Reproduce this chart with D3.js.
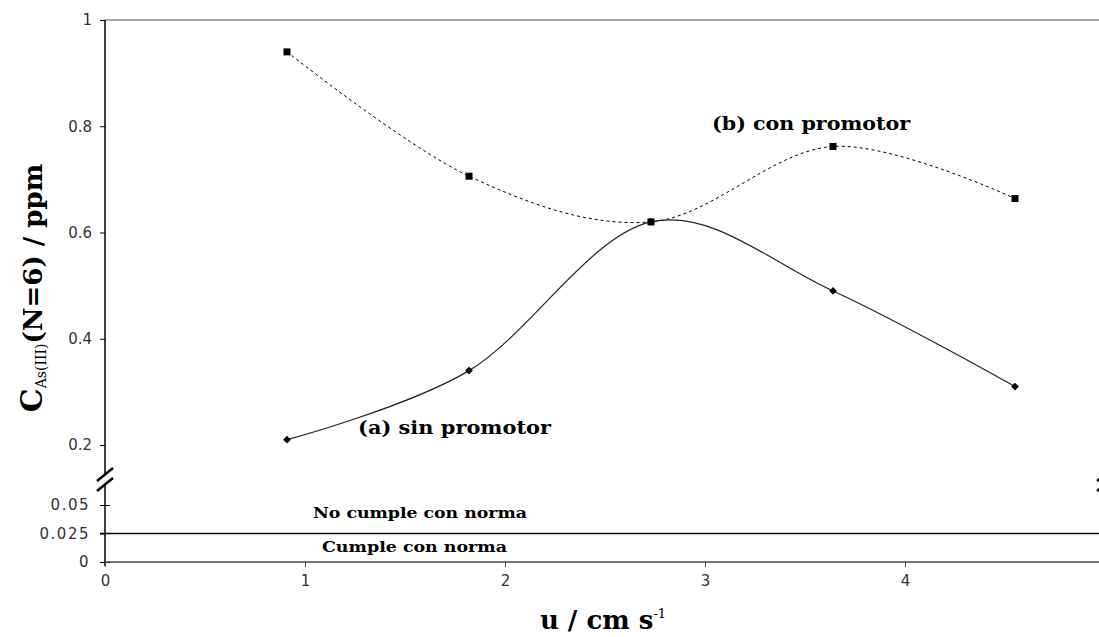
<!DOCTYPE html>
<html>
<head>
<meta charset="utf-8">
<script src="https://cdn.jsdelivr.net/npm/d3@7"></script>
<style>
  html, body { margin: 0; padding: 0; background: #fff; }
  svg { display: block; }
  .tick text { font-family: 'DejaVu Sans', sans-serif; font-size: 15px; fill: #333; }
</style>
</head>
<body>
<svg id="chart"></svg>
<script>
// velocidad u / cm s-1
const uValues = [0.91, 1.82, 2.73, 3.64, 4.55];
// (a) sin promotor
const sinPromotor = [0.21, 0.34, 0.62, 0.49, 0.31];
// (b) con promotor
const conPromotor = [0.94, 0.706, 0.62, 0.762, 0.664];

const xTicks = [0, 1, 2, 3, 4];
const yTicksUpper = [0.2, 0.4, 0.6, 0.8, 1];
const yTicksLower = [0, 0.025, 0.05];
const normaLimit = 0.025;

const width = 1099, height = 637;

const svg = d3.select('#chart')
  .attr('width', width)
  .attr('height', height);

// scales: upper part (broken axis) and lower part
const x = d3.scaleLinear().domain([0, 5]).range([105, 1105]);
const yTop = d3.scaleLinear().domain([0.2, 1]).range([445, 20]);
const yLow = d3.scaleLinear().domain([0, 0.05]).range([562, 505]);

const breakY = 478;

// top frame line
svg.append('line')
  .attr('x1', x(0)).attr('x2', x(5))
  .attr('y1', yTop(1)).attr('y2', yTop(1))
  .attr('stroke', '#8a8a8a').attr('stroke-width', 1.5);

// upper y axis
const gTop = svg.append('g')
  .attr('transform', 'translate(' + x(0) + ',0)')
  .call(d3.axisLeft(yTop).tickValues(yTicksUpper).tickSize(5).tickPadding(8).tickFormat(d3.format('')));
gTop.select('.domain').remove();
gTop.selectAll('.tick line').attr('stroke', '#000');

// lower y axis
const gLow = svg.append('g')
  .attr('transform', 'translate(' + x(0) + ',0)')
  .call(d3.axisLeft(yLow).tickValues(yTicksLower).tickSize(5).tickPadding(10).tickFormat(d3.format('')));
gLow.select('.domain').remove();
gLow.selectAll('.tick line').attr('stroke', '#000').attr('x1', function (d) { return d === normaLimit ? 0 : 5; });
gLow.selectAll('.tick text').style('letter-spacing', '1.5px');

// vertical axis line with gap
svg.append('line')
  .attr('x1', x(0)).attr('x2', x(0))
  .attr('y1', yTop(1)).attr('y2', breakY - 4)
  .attr('stroke', '#000').attr('stroke-width', 1.5);
svg.append('line')
  .attr('x1', x(0)).attr('x2', x(0))
  .attr('y1', breakY + 6).attr('y2', yLow(0) + 4)
  .attr('stroke', '#000').attr('stroke-width', 1.5);

// break marks (left and right)
[x(0), x(5)].forEach(function (bx) {
  [0, 10].forEach(function (off) {
    svg.append('line')
      .attr('x1', bx - 8).attr('y1', breakY + 3 + off)
      .attr('x2', bx + 8).attr('y2', breakY - 10 + off)
      .attr('stroke', '#000').attr('stroke-width', 2.5);
  });
});

// x axis
const gx = svg.append('g')
  .attr('transform', 'translate(0,' + yLow(0) + ')')
  .call(d3.axisBottom(x).tickValues(xTicks).tickSize(5).tickPadding(8).tickFormat(d3.format('')));
gx.select('.domain').remove();
gx.selectAll('.tick line').attr('stroke', '#444');
svg.append('line')
  .attr('x1', x(0)).attr('x2', x(5))
  .attr('y1', yLow(0)).attr('y2', yLow(0))
  .attr('stroke', '#444').attr('stroke-width', 1.5);

// norma line
svg.append('line')
  .attr('x1', x(0) - 5).attr('x2', x(5))
  .attr('y1', yLow(normaLimit)).attr('y2', yLow(normaLimit))
  .attr('stroke', '#000').attr('stroke-width', 1.5);

// series
const sinData = uValues.map(function (u, i) { return { u: u, v: sinPromotor[i] }; });
const conData = uValues.map(function (u, i) { return { u: u, v: conPromotor[i] }; });

const line = d3.line()
  .x(function (d) { return x(d.u); })
  .y(function (d) { return yTop(d.v); })
  .curve(d3.curveCardinal.tension(0));

svg.append('path')
  .datum(conData)
  .attr('fill', 'none')
  .attr('stroke', '#000')
  .attr('stroke-width', 1)
  .attr('stroke-dasharray', '3,3')
  .attr('d', line);

svg.append('path')
  .datum(sinData)
  .attr('fill', 'none')
  .attr('stroke', '#222')
  .attr('stroke-width', 1.2)
  .attr('d', line);

svg.selectAll('.con-pt')
  .data(conData)
  .enter()
  .append('path')
  .attr('class', 'con-pt')
  .attr('transform', function (d) { return 'translate(' + x(d.u) + ',' + yTop(d.v) + ')'; })
  .attr('d', d3.symbol(d3.symbolSquare, 49))
  .attr('fill', '#000');

// diamonds: squares turned 45 degrees
svg.selectAll('.sin-pt')
  .data(sinData)
  .enter()
  .append('path')
  .attr('class', 'sin-pt')
  .attr('transform', function (d) { return 'translate(' + x(d.u) + ',' + yTop(d.v) + ') rotate(45)'; })
  .attr('d', d3.symbol(d3.symbolSquare, 30))
  .attr('fill', '#000');

// annotations
const serif = "'DejaVu Serif', serif";
function note(tx, ty, txt, size, len) {
  svg.append('text')
    .attr('x', tx).attr('y', ty)
    .attr('textLength', len).attr('lengthAdjust', 'spacingAndGlyphs')
    .style('font-family', serif).style('font-weight', 'bold')
    .style('font-size', size + 'px').style('fill', '#000')
    .text(txt);
}
note(712, 130, '(b) con promotor', 19, 198);
note(358, 434, '(a) sin promotor', 19, 193);
note(313, 518, 'No cumple con norma', 14, 214);
note(322, 552, 'Cumple con norma', 14, 185);

// x axis title
const xt = svg.append('text')
  .attr('x', 603).attr('y', 629)
  .attr('text-anchor', 'middle')
  .style('font-family', serif).style('font-weight', 'bold')
  .style('font-size', '26px').style('fill', '#000');
xt.append('tspan').text('u / cm s');
xt.append('tspan').attr('dy', -11).style('font-size', '13px').style('font-weight', 'normal').text('-1');

// y axis title
const yt = svg.append('text')
  .attr('transform', 'translate(42,' + 288 + ') rotate(-90)')
  .attr('text-anchor', 'middle')
  .style('font-family', serif).style('font-weight', 'bold')
  .style('fill', '#000');
yt.append('tspan').style('font-size', '30px').text('C');
yt.append('tspan').attr('dy', 4).style('font-size', '14px').style('font-weight', 'normal').text('As(III)');
yt.append('tspan').attr('dy', -4).style('font-size', '26px').text('(N=6) / ppm');
</script>
</body>
</html>
